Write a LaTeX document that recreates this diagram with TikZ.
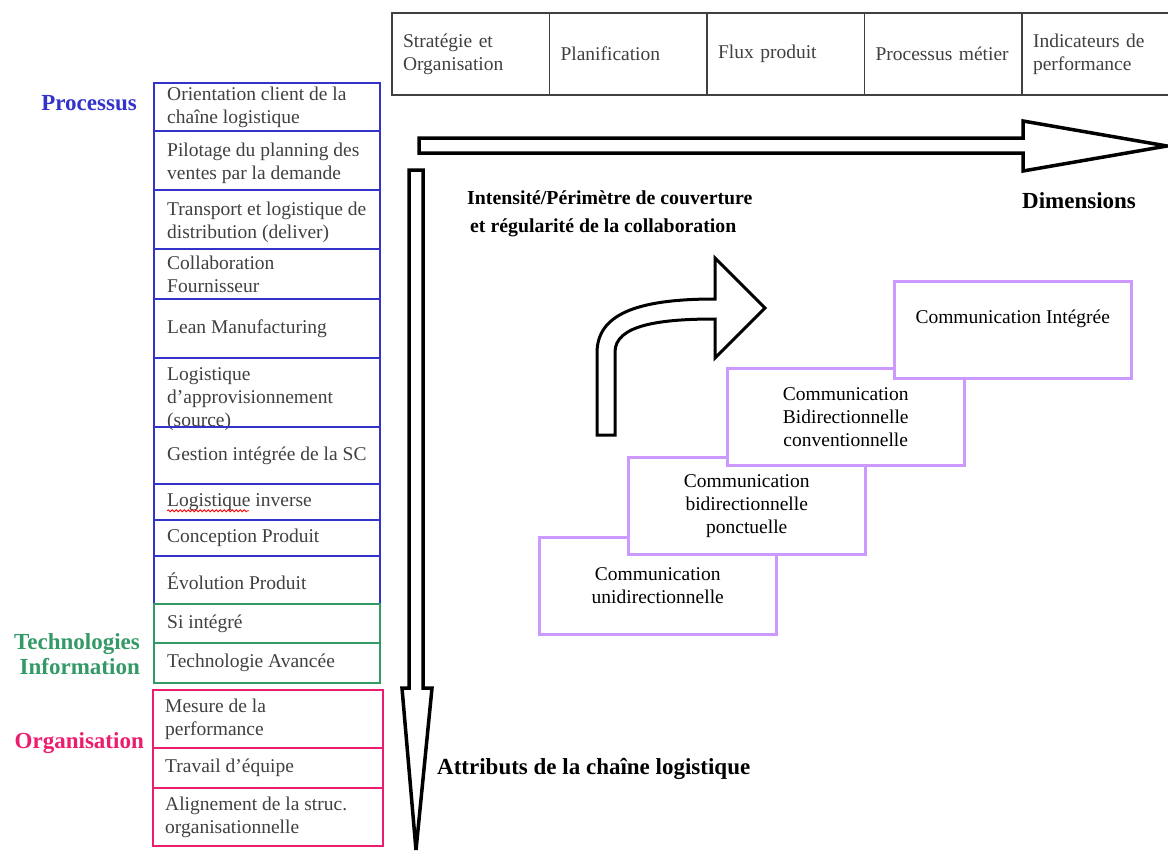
\documentclass[tikz,border=0pt]{standalone}
\usepackage{fontspec}
\setmainfont{Liberation Serif}
\usetikzlibrary{positioning,decorations.pathmorphing}
\definecolor{procblue}{RGB}{51,51,204}
\definecolor{techgreen}{RGB}{51,153,102}
\definecolor{orgpink}{RGB}{236,28,110}
\definecolor{commlilac}{RGB}{204,153,255}
\definecolor{cellgray}{RGB}{64,64,64}

\begin{document}
\begin{tikzpicture}[x=1pt, y=-1pt,
   txt/.style={font=\fontsize{19.5}{23}\selectfont},
   cell/.style={txt, draw=cellgray, line width=1.5pt, text=cellgray,
      minimum height=82pt, minimum width=157.5pt, text width=135.5pt,
      inner xsep=11pt, inner ysep=0pt, outer sep=0pt, align=left},
   rowtext/.style={txt, text=cellgray, anchor=west, align=left, inner sep=0pt},
   group/.style={font=\fontsize{23}{25}\selectfont\bfseries, align=right,
      anchor=east, inner sep=0pt},
   axislabel/.style={font=\fontsize{23}{25}\selectfont\bfseries, anchor=west, inner sep=0pt},
   commbox/.style={txt, draw=commlilac, line width=2.5pt, fill=white,
      minimum width=237pt, minimum height=97pt, align=center, anchor=north west},
   fatarrow/.style={draw=black, line width=3.5pt, fill=white, line join=miter}]

\useasboundingbox (0,0) rectangle (1168,854);

\node[cell, anchor=north west] (strat) at (392,13) {Stratégie et\\Organisation};
\node[cell, right=0pt of strat] (plan) {Planification};
\node[cell, right=0pt of plan] (flux) {Flux produit};
\node[cell, right=0pt of flux] (metier) {Processus métier};
\node[cell, right=0pt of metier] (indic) {Indicateurs de\\performance};

\foreach \i/\t/\b/\dy/\lbl in {
   1/83/131/0/{Orientation client de la\\chaîne logistique},
   2/131/190/3/{Pilotage du planning des\\ventes par la demande},
   3/190/249/3/{Transport et logistique de\\distribution (deliver)},
   4/249/299/0/{Collaboration\\Fournisseur},
   5/299/358/0/{Lean Manufacturing},
   6/358/427/7/{Logistique\\d’approvisionnement\\(source)},
   7/427/484/0/{Gestion intégrée de la SC},
   8/484/520/0/{Logistique inverse},
   9/520/556/0/{Conception Produit},
   10/556/604/1/{Évolution Produit}}
  {\draw[procblue, line width=1.5pt] (154,\t) rectangle (380,\b);
   \node[rowtext] (row\i) at (167,{(\t+\b)/2+\dy}) {\lbl};}

\foreach \i/\t/\b/\lbl in {
   11/604/643/{Si intégré},
   12/643/683/{Technologie Avancée}}
  {\draw[techgreen, line width=1.5pt] (154,\t) rectangle (380,\b);
   \node[rowtext] (row\i) at (167,{(\t+\b)/2}) {\lbl};}

\foreach \i/\t/\b/\lbl in {
   13/690/748/{Mesure de la\\performance},
   14/748/788/{Travail d’équipe},
   15/788/846/{Alignement de la struc.\\organisationnelle}}
  {\draw[orgpink, line width=1.5pt] (153,\t) rectangle (383,\b);
   \node[rowtext] (row\i) at (165,{(\t+\b)/2}) {\lbl};}

\draw[red, line width=0.8pt, decorate,
      decoration={snake, amplitude=1pt, segment length=4pt}]
   (row8.south west) -- ++(82,0);

\node[group, text=procblue] (proc) at (137,103) {Processus};
\node[group, text=techgreen] (tech) at (140,654) {Technologies\\Information};
\node[group, text=orgpink] (orga) at (144,743) {Organisation};

\draw[fatarrow] (419,138) -- (1023,138) -- (1023,121) -- (1167,146)
   -- (1023,171) -- (1023,153) -- (419,153) -- cycle;
\draw[fatarrow] (409,170) -- (423,170) -- (423,688) -- (432,688)
   -- (416,850) -- (402,688) -- (409,688) -- cycle;

\node[axislabel, font=\fontsize{19.8}{28}\selectfont\bfseries, align=left] (intens) at (467,214)
   {Intensité/Périmètre de couverture\\\hspace*{3pt}et régularité de la collaboration};
\node[axislabel] (dims) at (1022,201) {Dimensions};
\node[axislabel] (attr) at (437,769) {Attributs de la chaîne logistique};

\draw[fatarrow, line width=3pt] (597,435) -- (597,353)
   .. controls (597,315) and (635,299) .. (715,299) -- (715,258) -- (765,308)
   -- (715,358) -- (715,319) .. controls (660,319) and (615,325) .. (615,352)
   -- (615,435) -- cycle;

\node[commbox] (uni) at (538,536) {Communication\\unidirectionnelle};
\node[commbox] (ponct) at (627,456) {Communication\\bidirectionnelle\\ponctuelle};
\node[commbox] (conv) at (726,367) {Communication\\Bidirectionnelle\\conventionnelle};
\node[commbox] (integ) at (893,280) {Communication Intégrée\\[4pt]\mbox{}};

\end{tikzpicture}
\end{document}
